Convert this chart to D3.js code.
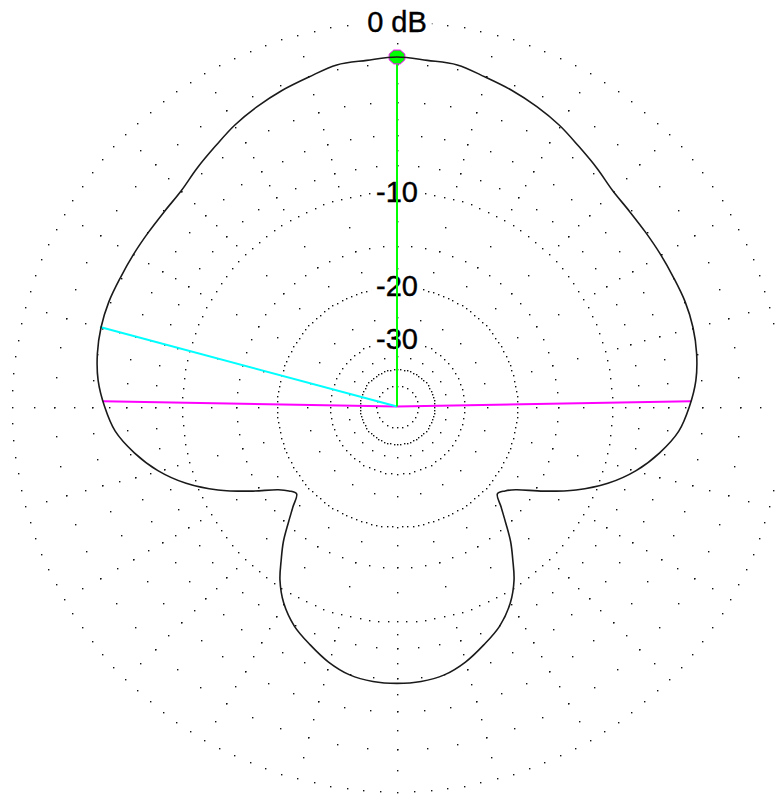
<!DOCTYPE html>
<html>
<head>
<meta charset="utf-8">
<script src="https://cdn.jsdelivr.net/npm/d3@7"></script>
<style>
  html, body { margin: 0; padding: 0; background: #fff; }
  svg { display: block; }
</style>
</head>
<body>
<svg id="chart" width="775" height="797"></svg>
<script>
// Pattern: angle in degrees (0 = straight up, clockwise) and gain in dB
const patternAngles = [
  0, 5, 10, 15, 20, 25, 30, 35, 40, 45, 50, 55, 60, 65, 70, 75, 80, 85, 90, 95,
  100, 105, 110, 115, 120, 125, 128, 131, 134, 137, 140, 143, 146, 150, 155, 160,
  165, 170, 175, 180,
  185, 190, 195, 200, 205, 210, 214, 217, 220, 223, 226, 229, 232, 235, 240, 245,
  250, 255, 260, 265, 270, 275, 280, 285, 290, 295, 300, 305, 310, 315, 320, 325,
  330, 335, 340, 345, 350, 355
];
const patternGain = [
  -1.66, -1.76, -1.79, -2.08, -2.32, -2.60, -2.92, -3.32, -3.66, -3.99, -4.08, -4.08,
  -4.04, -3.99, -3.91, -3.92, -4.04, -4.28, -4.72, -5.29, -6.30, -7.58, -9.26, -11.46,
  -14.10, -16.75, -17.72, -18.24, -16.79, -15.12, -13.35, -11.90, -10.46, -9.09, -7.93,
  -7.16, -6.44, -5.93, -5.71, -5.66,
  -5.71, -5.93, -6.44, -7.16, -7.93, -9.09, -10.46, -11.90, -13.35, -15.12, -16.79,
  -18.24, -17.72, -16.75, -14.10, -11.46, -9.26, -7.58, -6.30, -5.29, -4.72, -4.28,
  -4.04, -3.92, -3.91, -3.99, -4.04, -4.08, -4.08, -3.99, -3.66, -3.32, -2.92, -2.60,
  -2.32, -2.08, -1.79, -1.76
];

// Gain rings, labels and the dotted grid layout
const majorRings = [0, -10, -20, -30, -40, -50];
const majorRingStep = [2.5, 2.5, 2.5, 5, 5, 15];
const ringLabels = ["0 dB", "-10", "-20", "-30"];
const minorRings = [-2, -4, -6, -8, -15];
const spokeLevels = [-1, -2, -3, -4, -5, -6, -7, -8, -9, -12.5, -15, -17.5, -25, -35];
const spokeStep = 15;

// Highlighted directions: [angle, gain]
const peakMark = [0, -1.66];
const cyanMark = [-75, -3.86];
const magentaMarks = [[-89, -4.63], [89, -4.63]];

const svg = d3.select("#chart");
const cx = 397, cy = 406.5, R = 385;

// ARRL-style log scale: radius follows power ratio^0.253 (0.89 per 2 dB)
const powScale = d3.scalePow().exponent(Math.log(0.89) / -2 / (Math.LN10 / 10))
  .domain([0, 1]).range([0, R]);
const rOf = db => powScale(Math.pow(10, db / 10));
const rad = a => a * Math.PI / 180;
const px = (a, r) => cx + r * Math.sin(rad(a));
const py = (a, r) => cy - r * Math.cos(rad(a));

const g = svg.append("g");

// dotted grid
const dots = [];
majorRings.forEach((db, i) => {
  const r = rOf(db), st = majorRingStep[i];
  for (let a = 0; a < 360 - 1e-6; a += st) dots.push([px(a, r), py(a, r)]);
});
minorRings.forEach(db => {
  const r = rOf(db);
  for (let a = 0; a < 360 - 1e-6; a += 5) dots.push([px(a, r), py(a, r)]);
});
for (let a = 0; a < 360; a += spokeStep) {
  spokeLevels.forEach(db => {
    const r = rOf(db);
    dots.push([px(a, r), py(a, r)]);
  });
}
g.append("g").selectAll("rect").data(dots).join("rect")
  .attr("x", d => Math.round(d[0]))
  .attr("y", d => Math.round(d[1]))
  .attr("width", 1.4).attr("height", 1.4)
  .attr("fill", "#111");

// ring labels on the vertical axis
const labelG = g.append("g");
ringLabels.forEach((t, i) => {
  const y = cy - rOf(majorRings[i]);
  const txt = labelG.append("text")
    .attr("x", cx).attr("y", y)
    .attr("text-anchor", "middle")
    .attr("dominant-baseline", "central")
    .attr("font-family", "Liberation Sans, Arial, sans-serif")
    .attr("font-size", 29)
    .attr("fill", "#000")
    .attr("stroke", "#000")
    .attr("stroke-width", 0.4)
    .text(t);
  const bb = txt.node().getBBox();
  labelG.insert("rect", "text")
    .attr("x", bb.x - 5).attr("y", bb.y + 3)
    .attr("width", bb.width + 10).attr("height", bb.height - 6)
    .attr("fill", "#fff");
});

// direction lines
const markLine = (m, color) => g.append("line")
  .attr("x1", cx).attr("y1", cy)
  .attr("x2", px(m[0], rOf(m[1]))).attr("y2", py(m[0], rOf(m[1])))
  .attr("stroke", color).attr("stroke-width", 2);
magentaMarks.forEach(m => markLine(m, "#ff00ff"));
markLine(cyanMark, "#00ffff");
markLine(peakMark, "#00ff00");

// peak marker (octagon)
const mx = px(peakMark[0], rOf(peakMark[1])), my = py(peakMark[0], rOf(peakMark[1]));
const oct = d3.range(8).map(k => {
  const t = rad(22.5 + k * 45);
  return [mx + 8.5 * Math.cos(t), my + 7.5 * Math.sin(t)];
});
g.append("polygon").attr("points", oct.map(p => p.join(",")).join(" "))
  .attr("fill", "#00ff00").attr("stroke", "#ff00ff").attr("stroke-width", 1);

// pattern outline
const line = d3.lineRadial()
  .angle(d => rad(d[0]))
  .radius(d => rOf(d[1]))
  .curve(d3.curveCatmullRomClosed.alpha(0.5));
g.append("path")
  .attr("transform", `translate(${cx},${cy})`)
  .attr("d", line(patternAngles.map((a, i) => [a, patternGain[i]])))
  .attr("fill", "none")
  .attr("stroke", "#1a1a1a")
  .attr("stroke-width", 1.6);
</script>
</body>
</html>
